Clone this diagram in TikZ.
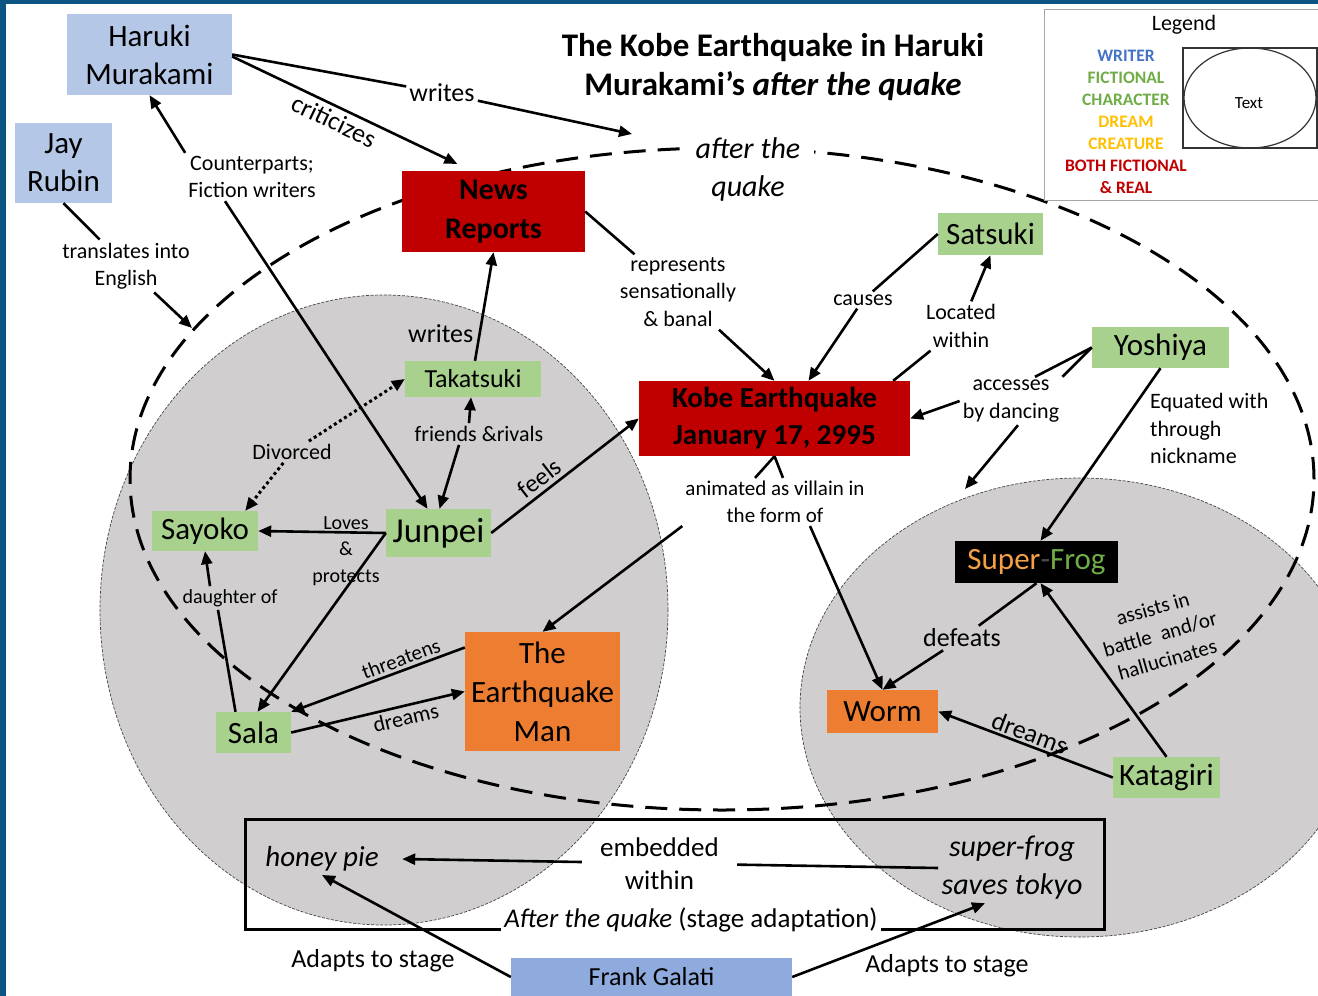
\documentclass[tikz,border=0pt]{standalone}
\usepackage{fontspec}
\setmainfont{Carlito}
\usetikzlibrary{arrows.meta,calc}
\definecolor{frameblue}{RGB}{12,84,130}
\definecolor{writerblue}{RGB}{180,199,231}
\definecolor{frankblue}{RGB}{143,170,220}
\definecolor{realred}{RGB}{192,0,0}
\definecolor{fictgreen}{RGB}{169,209,142}
\definecolor{dreamorange}{RGB}{237,125,49}
\definecolor{circgray}{RGB}{208,206,206}
\definecolor{legblue}{RGB}{68,114,196}
\definecolor{leggreen}{RGB}{112,173,71}
\definecolor{leggold}{RGB}{255,192,0}
\definecolor{sforange}{RGB}{244,160,70}
\definecolor{sfgreen}{RGB}{112,173,71}
\newcommand{\myfs}[2]{\fontsize{#1}{#2}\selectfont}
\begin{document}
\begin{tikzpicture}[x=1pt,y=-1pt,
  box/.style={rectangle, inner sep=0pt, align=center, text=black},
  writer/.style={box, fill=writerblue, font=\myfs{31}{38}},
  fict/.style={box, fill=fictgreen, font=\myfs{31}{38}},
  dream/.style={box, fill=dreamorange, font=\myfs{31}{39}},
  realbox/.style={box, fill=realred, font=\bfseries\myfs{30}{39}},
  lbl/.style={align=center, inner sep=3pt, font=\myfs{22}{27.5}},
  lblL/.style={align=center, inner sep=3pt, font=\myfs{26}{33}},
  ln/.style={line width=2.6pt},
  arr/.style={ln, -{Triangle[length=13pt,width=11pt]}},
  rarr/.style={ln, {Triangle[length=13pt,width=11pt]}-},
  dotarr/.style={line width=3pt, dash pattern=on 3pt off 3pt, -{Triangle[length=13pt,width=11pt]}},
  circborder/.style={gray!55!black, line width=0.7pt, dash pattern=on 3pt off 1.5pt},
]
\useasboundingbox (0,0) rectangle (1318,996);
\fill[frameblue] (0,0) rectangle (1318,996);
\fill[white] (6,4) rectangle (1318,996);

% gray circles
\fill[circgray] (384,610) ellipse [x radius=284pt, y radius=315pt];
\draw[circborder] (384,610) ellipse [x radius=284pt, y radius=315pt];
\fill[circgray] (1080,707.5) ellipse [x radius=280pt, y radius=229.5pt];
\draw[circborder] (1080,707.5) ellipse [x radius=280pt, y radius=229.5pt];

% big dashed ellipse
\draw[line width=3pt, dash pattern=on 22pt off 12pt] (722,479) ellipse [x radius=592pt, y radius=331pt];

% title
\node[font=\bfseries\myfs{33}{39}, align=center] (title) at (773,67) {The Kobe Earthquake in Haruki\\Murakami’s \textit{after the quake}};

% legend
\draw[gray!70, line width=0.8pt] (1318,9) -- (1044,9) -- (1044,200) -- (1318,200);
\node[font=\myfs{22}{26}] (legtitle) at (1184,25) {Legend};
\node[font=\bfseries\myfs{17.5}{22}, align=center] (legitems) at (1126,122) {\textcolor{legblue}{WRITER}\\\textcolor{leggreen}{FICTIONAL}\\\textcolor{leggreen}{CHARACTER}\\\textcolor{leggold}{DREAM}\\\textcolor{leggold}{CREATURE}\\\textcolor{realred}{BOTH FICTIONAL}\\\textcolor{realred}{\& REAL}};
\node[draw=black!80, line width=1.2pt, minimum width=134pt, minimum height=100pt, inner sep=0pt] (legrect) at (1250,98) {};
\draw[black!80, line width=1.2pt] (legrect.center) ellipse [x radius=66pt, y radius=50pt];
\node[font=\myfs{17}{20}] (legtext) at (1249,103) {Text};

% after the quake label
\coordinate (aqtop) at (632,134);
\coordinate (aqleft) at (192,328);
\coordinate (rctop) at (965,489);
\node[font=\itshape\myfs{30}{38}, align=center, fill=white, inner xsep=14pt, inner ysep=2pt] (aq) at (748,169) {after the\\quake};

% stage box
\node[draw, line width=3pt, minimum width=859pt, minimum height=110pt, inner sep=0pt] (stage) at (674.5,874) {};
\node[fill=white, inner sep=3pt, font=\myfs{27}{32}] (stagelbl) at (691,920) {\textit{After the quake} (stage adaptation)};
\node[font=\itshape\myfs{29}{36}] (hp) at (322,859) {honey pie};
\node[font=\itshape\myfs{30}{38}, align=center] (sft) at (1012,868) {super-frog\\saves tokyo};

% main nodes
\node[writer, minimum width=165pt, minimum height=81pt] (haruki) at (149.5,54.5) {Haruki\\Murakami};
\node[writer, minimum width=97pt, minimum height=80pt] (jay) at (63.5,163) {Jay\\Rubin};
\node[realbox, minimum width=183pt, minimum height=81pt] (news) at (493.5,211.5) {News\\Reports};
\node[fict, minimum width=105pt, minimum height=42pt] (satsuki) at (990.5,234) {Satsuki};
\node[realbox, font=\bfseries\myfs{29}{37}, minimum width=271pt, minimum height=75pt] (kobe) at (774.5,418.5) {Kobe Earthquake\\January 17, 2995};
\node[fict, minimum width=137pt, minimum height=41pt] (yoshiya) at (1160.5,347.5) {Yoshiya};
\node[fict, font=\myfs{26}{30}, minimum width=136pt, minimum height=36pt] (takatsuki) at (473,379) {Takatsuki};
\node[fict, minimum width=106pt, minimum height=40pt] (sayoko) at (205,531) {Sayoko};
\node[fict, font=\myfs{35}{40}, minimum width=105pt, minimum height=48pt] (junpei) at (438.5,533) {Junpei};
\node[dream, minimum width=155pt, minimum height=119pt] (eqman) at (542.5,691.5) {The\\Earthquake\\Man};
\node[fict, minimum width=75pt, minimum height=41pt] (sala) at (253.5,732.5) {Sala};
\node[box, fill=black, font=\myfs{31}{38}, minimum width=163pt, minimum height=42pt] (superfrog) at (1036.5,562) {\textcolor{sforange}{Super}\textcolor{gray!60!black}{-}\textcolor{sfgreen}{Frog}};
\node[dream, minimum width=111pt, minimum height=43pt] (worm) at (882.5,711.5) {Worm};
\node[fict, minimum width=107pt, minimum height=41pt] (katagiri) at (1166.5,777.5) {Katagiri};
\node[box, fill=frankblue, font=\myfs{26}{30}, minimum width=281pt, minimum height=38pt] (frank) at (651.5,977) {Frank Galati};

% label nodes
\node[lblL] (wrl) at (442,93) {writes};
\node[lbl] (cf) at (252,177) {Counterparts;\\Fiction writers};
\node[lbl] (tr) at (126,266) {translates into\\English};
\node[lbl] (rep) at (678,292) {represents\\sensationally\\\& banal};
\node[lbl] (causes) at (863,300) {causes};
\node[lbl] (loc) at (961,326) {Located\\within};
\node[lbl] (acc) at (1011,401) {accesses\\by dancing};
\node[lbl, align=left, anchor=west] (eq) at (1147,428.5) {Equated with\\through\\nickname};
\node[lbl, font=\myfs{21}{27}] (anim) at (775,502) {animated as villain in\\the form of};
\node[lblL] (def) at (962,638) {defeats};
\node[lbl, font=\myfs{21}{26.5}, rotate=16] (assist) at (1160,634) {assists in\\battle~ and/or\\hallucinates};
\node[lbl] (div) at (292,452) {Divorced};
\node[lbl] (fr) at (479,434) {friends \&rivals};
\node[lbl, font=\myfs{20}{26.5}] (lp) at (346,551) {Loves\\\&\\protects};
\node[lbl, font=\myfs{20}{24}] (dau) at (230,598) {daughter of};
\node[lblL] (ad1) at (373,961) {Adapts to stage};
\node[lblL] (ad2) at (947,966) {Adapts to stage};

% connectors
\draw[ln] (haruki.east) -- (wrl);
\draw[arr] (wrl) -- (aqtop);
\draw[arr, shorten >=16pt] ([yshift=-2pt]haruki.east) -- node[sloped, below=3pt, pos=0.45, lblL, inner sep=1pt]{criticizes} ([xshift=70pt]news.north west);
\draw[arr] (cf.north west) -- (haruki.south);
\draw[arr] ([xshift=-27pt]cf.south) -- ([xshift=-11pt]junpei.north);
\draw[ln] (jay.south) -- (tr);
\draw[arr] (tr) -- (aqleft);
\draw[ln] (news.east) -- (rep);
\draw[arr] (rep) -- (kobe.north);
\draw[ln] (satsuki.west) -- (causes);
\draw[arr] (causes) -- ([xshift=34pt]kobe.north);
\draw[ln] ([xshift=-17pt]kobe.north east) -- (loc);
\draw[arr] (loc) -- (satsuki.south);
\draw[ln] (yoshiya.west) -- ([xshift=24pt]acc.north);
\draw[ln] (yoshiya.west) -- (acc.north east);
\draw[arr] (acc.west) -- (kobe.east);
\draw[arr] ([xshift=7pt]acc.south) -- (rctop);
\draw[arr] (yoshiya.south) -- ([xshift=4pt]superfrog.north);
\draw[arr] (junpei.east) -- node[sloped, above=3pt, pos=0.385, font=\myfs{25}{30}, inner sep=1pt]{feels} (kobe.west);
\draw[ln] (kobe.south) -- ([xshift=-20pt]anim.north);
\draw[ln] (kobe.south) -- ([xshift=8pt]anim.north);
\draw[arr] (anim.south west) -- (eqman.north);
\draw[arr] ([xshift=35pt]anim.south) -- (worm.north);
\draw[ln] (superfrog.south) -- (def);
\draw[arr] (def) -- (worm.north);
\draw[arr] (katagiri.north) -- ([xshift=4pt]superfrog.south);
\draw[rarr] (worm.east) -- node[sloped, above=1pt, pos=0.5, font=\myfs{26}{30}, inner sep=1pt]{dreams} (katagiri.west);
\draw[arr] ([xshift=2pt]takatsuki.north) -- node[pos=0.25, left=5pt, lblL, inner sep=0pt]{writes} (news.south);
\draw[dotarr] (div) -- ([xshift=-13pt]sayoko.north east);
\draw[dotarr] (div) -- (takatsuki.west);
\draw[arr] ([xshift=-10pt]fr.north) -- ([xshift=-2pt]takatsuki.south);
\draw[arr] ([xshift=-20pt]fr.south) -- ([xshift=1pt]junpei.north);
\draw[arr] (junpei.west) -- (sayoko.east);
\draw[arr] (junpei.west) -- ([xshift=4pt]sala.north);
\draw[ln] ([xshift=-18pt]sala.north) -- ([xshift=-12pt]dau.south);
\draw[arr] ([xshift=-20pt]dau.north) -- (sayoko.south);
\draw[rarr] (sala.north east) -- node[sloped, above=2pt, pos=0.655, font=\myfs{21}{26}, inner sep=1pt]{threatens} ([yshift=44pt]eqman.west);
\draw[arr] (sala.east) -- node[sloped, below=2pt, pos=0.644, font=\myfs{22}{26}, inner sep=1pt]{dreams} (eqman.west);
\draw[arr] (frank.west) -- (hp.south);
\draw[arr] (frank.east) -- ([xshift=-27pt]sft.south);
\draw[arr] (sft.west) -- node[pos=0.52, fill=white, font=\myfs{27}{33}, align=center, inner xsep=18pt, inner ysep=2pt]{embedded\\within} ([xshift=20pt]hp.east);
\end{tikzpicture}
\end{document}
